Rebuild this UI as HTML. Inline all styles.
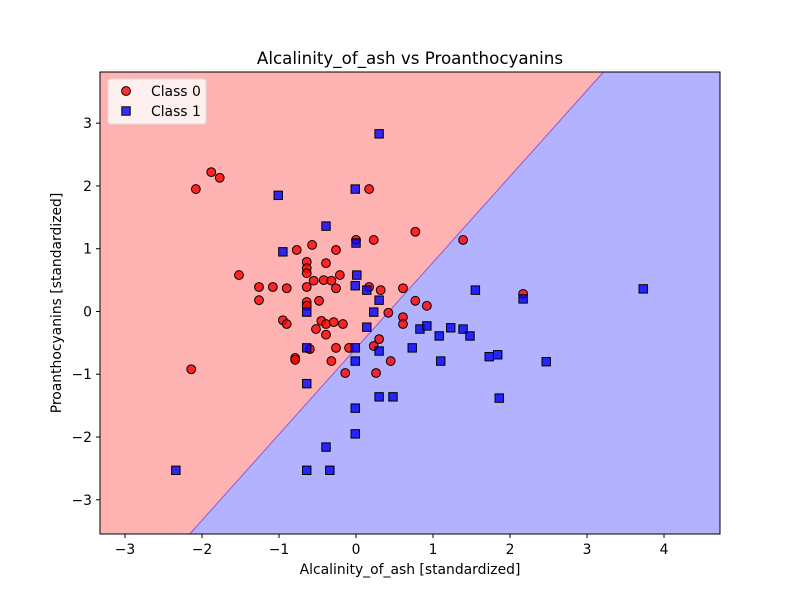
<!DOCTYPE html>
<html><head><meta charset="utf-8"><style>
body{margin:0;background:#fff;}
svg{display:block;font-family:"DejaVu Sans","Liberation Sans",sans-serif;}
</style></head><body>
<svg id="chart" width="800" height="600" viewBox="0 0 800 600"></svg>
<script>
const class0X=[0.77,1.39,0.00,0.23,-0.57,-0.77,-0.26,-0.39,-0.64,-0.64,-0.64,-1.52,-0.21,-0.55,-0.42,-0.32,-1.26,-1.08,-0.90,-0.64,-0.26,0.17,0.32,0.61,-1.26,-0.64,-0.64,-0.48,0.77,0.92,0.42,0.61,0.61,-0.95,-0.90,-0.45,-0.39,-0.29,-0.17,-0.52,-0.39,0.30,-0.60,-0.26,-0.09,0.23,-0.79,-0.79,-0.32,0.45,-0.14,0.26,-2.14,-2.08,-1.88,-1.77,0.17,2.17];
const class0Y=[1.27,1.14,1.14,1.14,1.06,0.98,0.98,0.77,0.79,0.69,0.61,0.58,0.58,0.49,0.50,0.49,0.39,0.39,0.37,0.39,0.37,0.39,0.34,0.37,0.18,0.15,0.09,0.17,0.17,0.09,-0.02,-0.09,-0.20,-0.14,-0.20,-0.15,-0.20,-0.17,-0.20,-0.28,-0.37,-0.44,-0.60,-0.58,-0.58,-0.55,-0.74,-0.77,-0.79,-0.79,-0.98,-0.98,-0.92,1.95,2.22,2.13,1.95,0.28];
const class1X=[-0.39,-0.95,0.00,0.01,-0.01,0.14,0.30,1.55,0.23,-0.64,0.14,0.83,0.92,1.23,1.39,1.48,1.08,-0.64,-0.01,0.30,0.73,-0.01,1.10,-0.64,0.30,0.48,-1.01,-0.01,0.30,1.73,1.84,2.17,2.47,3.73,1.86,-0.01,-0.01,-0.39,-0.64,-0.34,-2.34];
const class1Y=[1.36,0.95,1.09,0.58,0.41,0.34,0.18,0.34,-0.01,-0.01,-0.25,-0.28,-0.23,-0.26,-0.28,-0.39,-0.39,-0.58,-0.58,-0.63,-0.58,-0.79,-0.79,-1.15,-1.36,-1.36,1.85,1.95,2.83,-0.72,-0.69,0.20,-0.80,0.36,-1.38,-1.54,-1.95,-2.16,-2.53,-2.53,-2.53];
const xTicks=[-3,-2,-1,0,1,2,3,4];
const yTicks=[-3,-2,-1,0,1,2,3];
const boundaryX=[-2.156,3.21];
const boundaryY=[-3.54,3.81];
const xMin=-3.325,xMax=4.727,yMin=-3.545,yMax=3.815;
const L=100,R=720,T=72,B=534;
const sx=v=>L+(v-xMin)/(xMax-xMin)*(R-L);
const sy=v=>B-(v-yMin)/(yMax-yMin)*(B-T);
const NS='http://www.w3.org/2000/svg';
const svg=document.getElementById('chart');
function mk(tag,attrs,parent){const e=document.createElementNS(NS,tag);for(const k in attrs)e.setAttribute(k,attrs[k]);(parent||svg).appendChild(e);return e;}
let bg=mk('rect',{x:L,y:T,width:R-L,height:B-T,fill:'#b2b2ff'});


const slope=(boundaryY[1]-boundaryY[0])/(boundaryX[1]-boundaryX[0]);
const xAt=y=>boundaryX[0]+(y-boundaryY[0])/slope;
const xb=xAt(yMin),xt=xAt(yMax);
let red=mk('polygon',{points:`${L},${T} ${sx(xt)},${T} ${sx(xb)},${B} ${L},${B}`,fill:'#ffb2b2'});


let bl=mk('line',{x1:sx(xb),y1:B,x2:sx(xt),y2:T,stroke:'#8a5cd8','stroke-width':1});


class0X.forEach((x,i)=>{
  const c=mk('circle',{cx:sx(x),cy:sy(class0Y[i]),r:4.4,fill:'#ff0000','fill-opacity':0.8,stroke:'#000','stroke-width':1});
  
  
});
class1X.forEach((x,i)=>{
  const c=mk('rect',{x:sx(x)-4.2,y:sy(class1Y[i])-4.2,width:8.4,height:8.4,fill:'#0000ff','fill-opacity':0.8,stroke:'#000','stroke-width':1});
  
  
});
let fr=mk('rect',{x:L,y:T,width:R-L,height:B-T,fill:'none',stroke:'#000','stroke-width':1});


xTicks.forEach(t=>{
  const x=sx(t);
  let l=mk('line',{x1:x,y1:B,x2:x,y2:B+4,stroke:'#000'});
  
  
  let tx=mk('text',{x:x,y:B+20,'text-anchor':'middle','font-size':13.9});
  tx.textContent=(t<0?'\u2212'+(-t):t);
  
  
});
yTicks.forEach(t=>{
  const y=sy(t);
  let l=mk('line',{x1:L-4,y1:y,x2:L,y2:y,stroke:'#000'});
  
  
  let tx=mk('text',{x:L-8,y:y+5,'text-anchor':'end','font-size':13.9});
  tx.textContent=(t<0?'\u2212'+(-t):t);
  
  
});
let title=mk('text',{x:410,y:64,'text-anchor':'middle','font-size':16.7});
title.textContent='Alcalinity_of_ash vs Proanthocyanins';


let xl=mk('text',{x:410,y:574,'text-anchor':'middle','font-size':13.9});
xl.textContent='Alcalinity_of_ash [standardized]';


let yl=mk('text',{x:61,y:303,'text-anchor':'middle','font-size':13.9,transform:'rotate(-90 61 303)'});
yl.textContent='Proanthocyanins [standardized]';


let lg=mk('g',{});


mk('rect',{x:108,y:79,width:98,height:45,rx:3,fill:'#fff','fill-opacity':0.8,stroke:'#ddd'},lg);
let m0=mk('circle',{cx:126,cy:91,r:4.4,fill:'#ff0000','fill-opacity':0.8,stroke:'#000'},lg);


let t0=mk('text',{x:151,y:96,'font-size':13.9},lg);t0.textContent='Class 0';


let m1=mk('rect',{x:121.8,y:106.8,width:8.4,height:8.4,fill:'#0000ff','fill-opacity':0.8,stroke:'#000'},lg);


let t1=mk('text',{x:151,y:116,'font-size':13.9},lg);t1.textContent='Class 1';


</script>
</body></html>
